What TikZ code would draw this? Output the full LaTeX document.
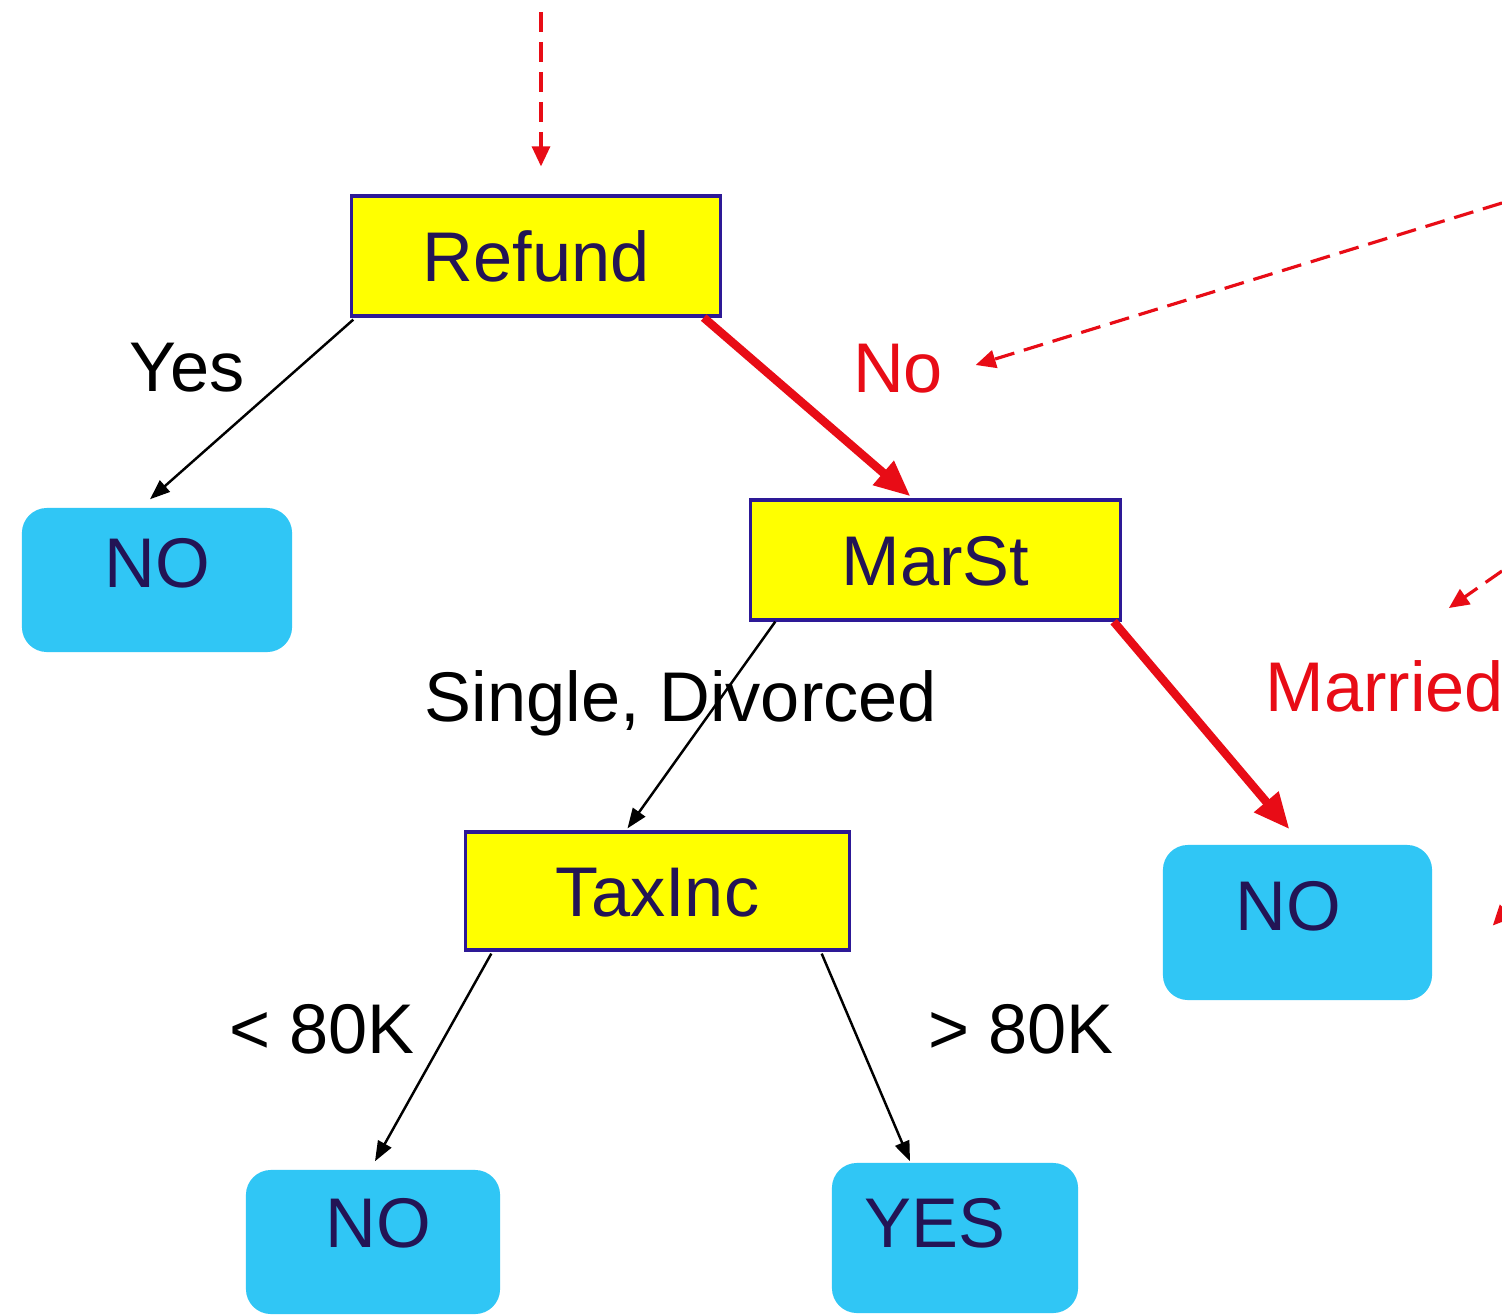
\documentclass[tikz,border=0pt]{standalone}
\usepackage{fontspec}
\setmainfont{Liberation Sans}
\usetikzlibrary{arrows.meta,calc}
\definecolor{boxyellow}{RGB}{255,255,0}
\definecolor{boxedge}{RGB}{45,25,150}
\definecolor{leafblue}{RGB}{48,198,245}
\definecolor{nodetext}{RGB}{35,20,85}
\definecolor{pathred}{RGB}{232,12,22}

\begin{document}
\begin{tikzpicture}[x=0.01cm,y=-0.01cm,
  labelfont/.style={font=\fontsize{20}{24}\selectfont},
  testbox/.style={labelfont, draw=boxedge, line width=0.9pt, fill=boxyellow,
    text=nodetext, inner sep=0pt, text height=0.505cm, text depth=0pt},
  leafbox/.style={labelfont, fill=leafblue, rounded corners=0.25cm,
    text=nodetext, inner sep=0pt, text height=0.505cm, text depth=#1},
  edgelabel/.style={labelfont, inner sep=0pt, text height=0.505cm, text depth=0pt},
  branch/.style={draw=black, line width=0.7pt,
    -{Triangle[length=0.2cm,width=0.15cm]}},
  hotbranch/.style={draw=pathred, line width=2.4pt,
    -{Triangle[length=0.36cm,width=0.3cm]}},
  pointer/.style={draw=pathred, line width=0.9pt, dash pattern=on 0.2cm off 0.1cm,
    -{Triangle[length=0.2cm,width=0.18cm]}},
]
\useasboundingbox (0,0) rectangle (1502,1315);
\fill[white] (0,0) rectangle (1502,1315);
\clip (0,0) rectangle (1502,1315);

% decision nodes
\node[testbox, minimum width=3.68cm, minimum height=1.2cm]  (refund) at (536,256)   {Refund};
\node[testbox, minimum width=3.69cm, minimum height=1.2cm]  (marst)  at (935.5,560) {MarSt};
\node[testbox, minimum width=3.83cm, minimum height=1.18cm] (taxinc) at (657.5,891) {TaxInc};

% leaves
\node[leafbox=0.36cm, minimum width=2.7cm,  minimum height=1.44cm] (leafA) at (157,580)      {NO};
\node[leafbox=0.35cm, minimum width=2.69cm, minimum height=1.55cm] (leafB) at (1297.5,922.5) {NO\kern0.18cm};
\node[leafbox=0.4cm,  minimum width=2.54cm, minimum height=1.44cm] (leafC) at (373,1242)     {\kern0.1cm NO};
\node[leafbox=0.32cm, minimum width=2.46cm, minimum height=1.5cm]  (leafD) at (955,1238)     {YES\kern0.4cm};

% branch labels
\node[edgelabel] (lblYes) at (187,366) {Yes};
\node[edgelabel, text=pathred] (lblNo) at (898,367) {No};
\node[edgelabel] (lblSD) at (681,696) {Single, Divorced};
\node[edgelabel, text=pathred, anchor=west] (lblMarried) at (1265,686) {Married};
\node[edgelabel] (lblLow) at (322,1028) {< 80K};
\node[edgelabel] (lblHigh) at (1021,1028) {> 80K};

% branches
\draw[branch] ($(refund.south west)+(3,2)$) -- ($(leafA.north)+(-7,-8)$);
\draw[hotbranch] ($(refund.south east)+(-18,0)$) -- ($(marst.north)+(-25,-2)$);
\draw[branch] ($(marst.south west)+(26,0)$) -- ($(taxinc.north)+(-30,-2)$);
\draw[hotbranch] ($(marst.south east)+(-8,0)$) -- ($(leafB.north)+(-8,-15)$);
\draw[branch] ($(taxinc.south west)+(27,2)$) -- ($(leafC.north)+(2,-8)$);
\draw[branch] ($(taxinc.south east)+(-29,2)$) -- ($(leafD.north)+(-45,-1)$);

% dashed pointers
\coordinate (feedTop) at (541,12);
\draw[pointer] (feedTop) -- ($(refund.north)+(5,-28)$);
\coordinate (feedNo) at (1502,203);
\draw[pointer] (feedNo) -- ($(lblNo.east)+(32,-2)$);
\coordinate (feedMarried) at (1502,571);
\draw[pointer] (feedMarried) -- ($(lblMarried.north)+(64,-52)$);
\coordinate (feedLeaf) at (1540,876);
\draw[pointer] (feedLeaf) -- ($(leafB.east)+(60,3)$);
\end{tikzpicture}
\end{document}
